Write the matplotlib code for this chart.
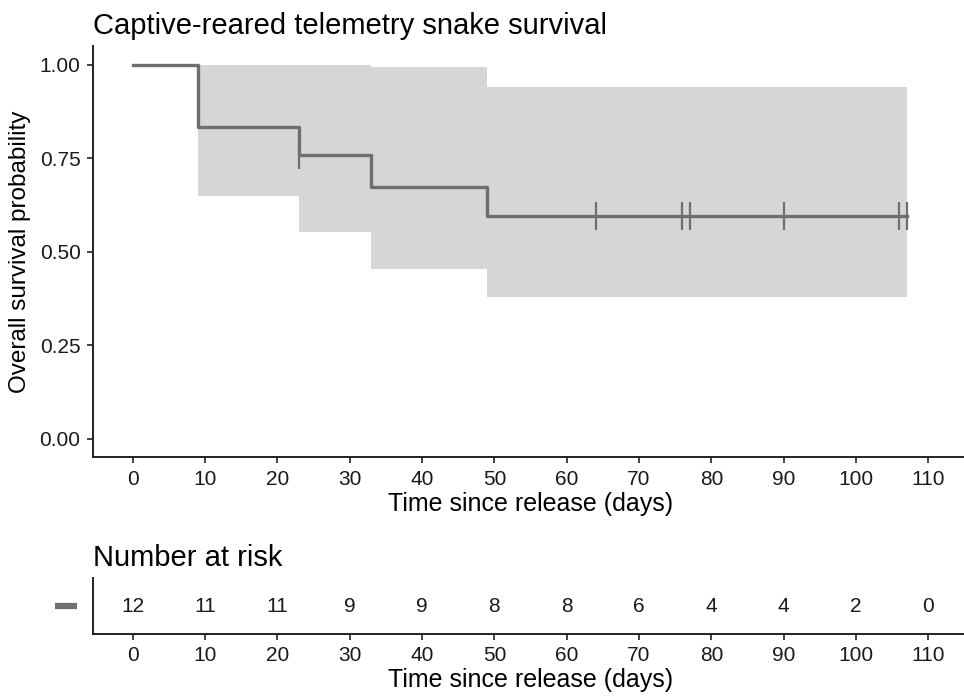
import matplotlib.pyplot as plt
import numpy as np

plt.rcParams['font.family'] = ['Liberation Sans', 'DejaVu Sans']

# Kaplan-Meier estimate
step_times = [0, 9, 23, 33, 49, 107]
surv = [1.0, 0.833, 0.758, 0.674, 0.596, 0.596]
upper = [1.0, 1.0, 1.0, 0.993, 0.940, 0.940]
lower = [1.0, 0.648, 0.553, 0.455, 0.380, 0.380]
band_start = 1  # band starts at first event

censor_times = [23, 64, 76, 77, 90, 106, 107]

risk_times = [0, 10, 20, 30, 40, 50, 60, 70, 80, 90, 100, 110]
n_risk = [12, 11, 11, 9, 9, 8, 8, 6, 4, 4, 2, 0]

line_col = '#6f6f6f'
band_col = '#d6d6d6'

fig = plt.figure(figsize=(9.64, 6.97), dpi=100)
ax = fig.add_axes([0.0965, 0.3437, 0.9077, 0.5903])
axr = fig.add_axes([0.0965, 0.0904, 0.9077, 0.0803])

xlim = (-5.5, 115.5)

# confidence band
ax.fill_between(step_times[band_start:], lower[band_start:], upper[band_start:],
                step='post', color=band_col, linewidth=0)
ax.step(step_times, surv, where='post', color=line_col, linewidth=2.4)
cens_y = [surv[np.searchsorted(step_times, t, side='right') - 1] for t in censor_times]
ax.plot(censor_times, cens_y, linestyle='none', marker='|', markersize=20,
        markeredgewidth=1.6, color=line_col)

ax.set_xlim(*xlim)
ax.set_ylim(-0.05, 1.05)
ax.set_xticks(risk_times)
ax.set_yticks([0, 0.25, 0.5, 0.75, 1.0])
ax.set_yticklabels(['0.00', '0.25', '0.50', '0.75', '1.00'])
ax.set_xlabel('Time since release (days)', fontsize=18, labelpad=2)
ax.set_ylabel('Overall survival probability', fontsize=17.5, labelpad=6)
ax.set_title('Captive-reared telemetry snake survival', fontsize=21,
             loc='left', pad=9)

for a in (ax, axr):
    a.spines['top'].set_visible(False)
    a.spines['right'].set_visible(False)
    a.spines['left'].set_linewidth(1.4)
    a.spines['bottom'].set_linewidth(1.4)
    a.spines['left'].set_color('#222222')
    a.spines['bottom'].set_color('#222222')
    a.tick_params(labelsize=15, length=4, width=1.3, colors='#333333',
                  labelcolor='#1a1a1a')
    a.tick_params(axis='x', pad=5)
    a.tick_params(axis='y', pad=5)

# number at risk table
for t, n in zip(risk_times, n_risk):
    axr.text(t, 0.5, str(n), ha='center', va='center', fontsize=15,
             color='#1a1a1a')
axr.set_xlim(*xlim)
axr.set_ylim(0, 1)
axr.set_xticks(risk_times)
axr.set_yticks([0.5])
axr.set_yticklabels([''])
axr.tick_params(axis='y', length=0)
axr.set_xlabel('Time since release (days)', fontsize=18, labelpad=2)
axr.set_title('Number at risk', fontsize=21, loc='left', pad=9)
# strata legend swatch
axr.plot([-10.8, -7.7], [0.5, 0.5], color=line_col, linewidth=4.5,
         solid_capstyle='butt', clip_on=False)

fig.savefig('out.png', dpi=100)
